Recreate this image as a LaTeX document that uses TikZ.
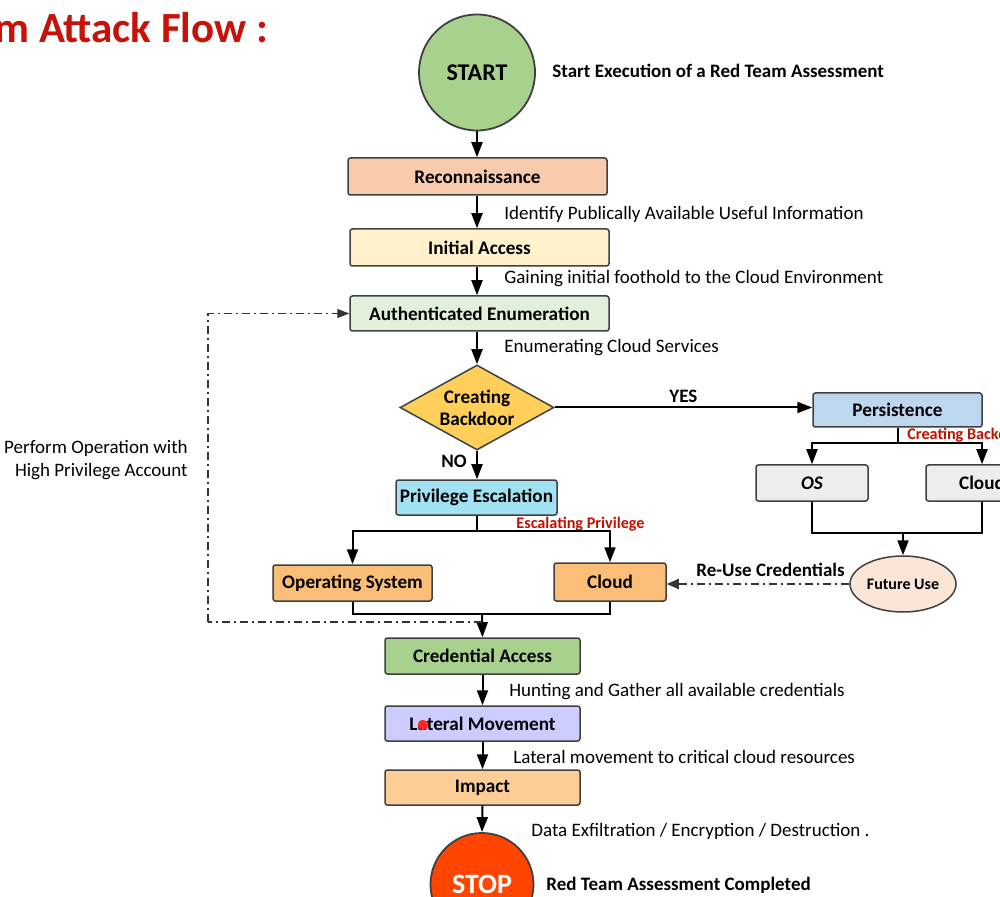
\documentclass[tikz,border=0pt]{standalone}
\usepackage{fontspec}
\setmainfont{Carlito}
\usetikzlibrary{arrows.meta,shapes.geometric}
\definecolor{titlered}{RGB}{198,18,8}
\definecolor{labred}{RGB}{192,16,0}
\definecolor{cStart}{RGB}{169,209,142}
\definecolor{cRecon}{RGB}{248,203,173}
\definecolor{cInit}{RGB}{255,242,204}
\definecolor{cAuth}{RGB}{226,239,218}
\definecolor{cDia}{RGB}{255,207,90}
\definecolor{cPers}{RGB}{189,215,238}
\definecolor{cGray}{RGB}{237,237,237}
\definecolor{cFut}{RGB}{251,229,214}
\definecolor{cPriv}{RGB}{160,226,242}
\definecolor{cOrange}{RGB}{250,190,120}
\definecolor{cCred}{RGB}{169,209,142}
\definecolor{cLat}{RGB}{204,204,255}
\definecolor{cImp}{RGB}{252,206,150}
\definecolor{cStop}{RGB}{255,69,0}
\begin{document}
\begin{tikzpicture}[x=0.5pt,y=-0.5pt,
  box/.style={draw=black!75, line width=0.75pt, rounded corners=1.2pt, inner sep=0pt,
    font=\bfseries\fontsize{9.6}{11}\selectfont},
  body/.style={anchor=west, inner sep=0pt, font=\fontsize{9.5}{11}\selectfont},
  bodyb/.style={anchor=west, inner sep=0pt, font=\bfseries\fontsize{9.5}{11}\selectfont},
  redlab/.style={anchor=west, inner sep=0pt, text=labred, font=\bfseries\fontsize{8.1}{9}\selectfont},
  arr/.style={line width=1pt, -{Triangle[length=7.5pt,width=5.5pt]}},
  ln/.style={line width=1pt},
  dd/.style={line width=0.6pt, black!80, dash pattern=on 4pt off 2pt on 1pt off 2pt}]
\useasboundingbox (0,0) rectangle (1000,897);
\clip (0,0) rectangle (1000,897);
\fill[white] (0,0) rectangle (1000,897);

% title
\node[anchor=west, inner sep=0pt, text=titlered, font=\bfseries\fontsize{21.5}{24}\selectfont] (title) at (-6,28) {m Attack Flow :};

% main column
\node[circle, draw=black!75, line width=0.9pt, fill=cStart, minimum size=58pt, inner sep=0pt,
  font=\bfseries\fontsize{12}{14}\selectfont] (start) at (477,72.5) {START};
\node[bodyb] (startlab) at (552,71) {Start Execution of a Red Team Assessment};

\node[box, fill=cRecon, minimum width=129.5pt, minimum height=18.5pt] (recon) at (477.5,176.5) {Reconnaissance};
\node[box, fill=cInit, minimum width=129.5pt, minimum height=18.5pt] (init) at (479.5,247.5) {Initial Access};
\node[box, fill=cAuth, minimum width=129.5pt, minimum height=17.5pt] (auth) at (479.5,313.5) {Authenticated Enumeration};

\node[diamond, draw=black!75, line width=0.75pt, fill=cDia, aspect=1.8, inner sep=0pt,
  minimum width=77pt, minimum height=42.5pt, align=center,
  font=\bfseries\fontsize{9.6}{11}\selectfont] (dia) at (477,407.5) {Creating\\Backdoor};

\node[box, fill=cPriv, minimum width=80.5pt, minimum height=17.5pt] (priv) at (476.5,497.5) {Privilege Escalation};
\node[box, fill=cOrange, minimum width=79.5pt, minimum height=18pt] (osL) at (352.5,583) {Operating System};
\node[box, fill=cOrange, minimum width=56pt, minimum height=19pt] (cloudL) at (610,582) {Cloud};

\node[box, fill=cCred, minimum width=97.5pt, minimum height=18pt] (cred) at (482.5,656) {Credential Access};
\node[box, fill=cLat, minimum width=97.5pt, minimum height=17.5pt] (lat) at (482.5,723.5) {Lateral Movement};
\node[box, fill=cImp, minimum width=97.5pt, minimum height=17.5pt] (impact) at (482.5,787.5) {Impact};
\node[circle, draw=black!75, line width=0.9pt, fill=cStop, minimum size=51.5pt, inner sep=0pt, text=white,
  font=\bfseries\fontsize{14}{16}\selectfont] (stop) at (482,884.5) {\raisebox{-1.1ex}{STOP}};
\fill[red!85!white] (423,725) circle (2.6pt);

% right branch
\node[box, fill=cPers, minimum width=84.5pt, minimum height=17pt] (persist) at (897.5,410) {Persistence};
\node[box, fill=cGray, minimum width=56pt, minimum height=18pt] (osR) at (812,483) {\itshape OS};
\node[box, fill=cGray, minimum width=56pt, minimum height=18pt] (cloudR) at (982,483) {Cloud};
\node[ellipse, draw=black!75, line width=0.75pt, fill=cFut, minimum width=53pt, minimum height=28pt, inner sep=0pt,
  font=\bfseries\fontsize{8}{9}\selectfont] (future) at (903,584) {Future Use};

% labels
\node[body] (l1) at (504,214) {Identify Publically Available Useful Information};
\node[body] (l2) at (504,279) {Gaining initial foothold to the Cloud Environment};
\node[body] (l3) at (504,348) {Enumerating Cloud Services};
\node[bodyb] (yes) at (669,396) {YES};
\node[bodyb] (no) at (441,461) {NO};
\node[redlab] (esc) at (516,524) {Escalating Privilege};
\node[redlab] (cbk) at (907,435) {Creating Backdoor};
\node[bodyb] (reuse) at (696,570) {Re-Use Credentials};
\node[anchor=east, inner sep=0pt, align=right, font=\fontsize{9.5}{11.5}\selectfont] (perf) at (188,460)
  {Perform Operation with\\High Privilege Account};
\node[body] (l4) at (509,692) {Hunting and Gather all available credentials};
\node[body] (l5) at (513,757) {Lateral movement to critical cloud resources};
\node[body] (l6) at (531,831) {Data Exfiltration / Encryption / Destruction .};
\node[bodyb] (stoplab) at (546,885) {Red Team Assessment Completed};

% connectors main column
\draw[arr] (start.south) -- (start.south |- recon.north);
\draw[arr] (start.south |- recon.south) -- (start.south |- init.north);
\draw[arr] (start.south |- init.south) -- (start.south |- auth.north);
\draw[arr] (start.south |- auth.south) -- (dia.north);
\draw[arr] (dia.south) -- (dia.south |- priv.north);
\draw[arr] (dia.east) -- (dia.east -| persist.west);

% privilege fork
\coordinate (pj) at (476.5,531);
\draw[ln] (priv.south) -- (pj);
\draw[arr] (pj) -| (osL.north);
\draw[arr] (pj) -| (cloudL.north);
\coordinate (cj) at (482,614);
\draw[ln] (osL.south) |- (cj) -| (cloudL.south);
\draw[arr] (cj) -- (cred.north);

% feedback
\coordinate (fb) at (482,622);
\coordinate (fbc) at (208,622);
\draw[dd] (fb) -- (fbc);
\draw[dd, -{Triangle[length=6pt,width=4.5pt]}] (fbc) |- (auth.west);

% persistence fork
\coordinate (pj2) at (897.5,443);
\draw[ln] (persist.south) -- (pj2);
\draw[arr] (pj2) -| (osR.north);
\draw[arr] (pj2) -| (cloudR.north);
\coordinate (cj2) at (903,533);
\draw[ln] (osR.south) |- (cj2) -| (cloudR.south);
\draw[arr] (cj2) -- (future.north);
\draw[dd, line width=0.9pt, -{Triangle[length=6pt,width=5pt]}] (future.west) -- (future.west -| cloudL.east);

% lower column
\draw[arr] (cred.south) -- (lat.north);
\draw[arr] (lat.south) -- (impact.north);
\draw[arr] (impact.south) -- (stop.north);
\end{tikzpicture}
\end{document}
